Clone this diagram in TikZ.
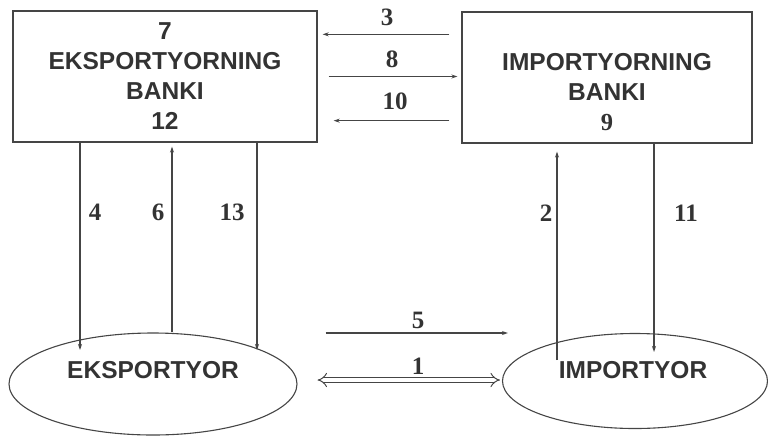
\documentclass[tikz,border=0pt]{standalone}
\usepackage{fontspec}
\setmainfont{Liberation Serif}
\setsansfont{Liberation Sans}
\usetikzlibrary{shapes.geometric,arrows.meta,calc}
\definecolor{linec}{HTML}{454545}
\definecolor{textc}{HTML}{333333}
\begin{document}
\begin{tikzpicture}[x=1pt,y=-1pt,
  bankbox/.style={draw=linec, line width=1.3pt, minimum height=131pt, inner sep=0pt,
    align=center, text=textc, font=\fontsize{24.5}{30}\selectfont\sffamily\bfseries},
  oval/.style={ellipse, draw=linec, line width=1.1pt, inner sep=0pt},
  ovaltext/.style={text=textc, font=\fontsize{24.5}{30}\selectfont\sffamily\bfseries},
  num/.style={text=textc, inner sep=0pt, font=\fontsize{25}{30}\selectfont\rmfamily\bfseries},
  arr/.style={draw=linec, line width=1.1pt, -{Stealth[length=6pt,width=4pt]}},
  dbl/.style={draw=linec, line width=1pt, double=white, double distance=4pt,
    {Implies[length=9pt]}-{Implies[length=9pt]}}
]
\useasboundingbox (0,0) rectangle (768,437);
% boxes
\node[bankbox, minimum width=304pt] (ebank) at (165,76.5)
  {7\\EKSPORTYORNING\\BANKI\\12};
\node[bankbox, minimum width=290pt] (ibank) at (607,77.5)
  {\phantom{7}\\IMPORTYORNING\\BANKI\\{\rmfamily 9}};
% ellipses
\node[oval, minimum width=288pt, minimum height=102pt] (exp) at (153,384) {};
\node[ovaltext] (expt) at (153,370) {EKSPORTYOR};
\node[oval, minimum width=265pt, minimum height=95pt] (imp) at (635,381) {};
\node[ovaltext] (impt) at (633,370) {IMPORTYOR};
% horizontal arrows between banks
\draw[arr] ($(ibank.north west)+(-12,23)$) -- ($(ebank.north east)+(5,24)$);
\draw[arr] ($(ebank.east)+(11,0)$) -- ($(ibank.west)+(-4,-1)$);
\draw[arr] ($(ibank.south west)+(-12,-23)$) -- ($(ebank.south east)+(16,-22)$);
\node[num] (n3) at (387,17) {3};
\node[num] (n8) at (392,59) {8};
\node[num] (n10) at (395,101) {10};
% exporter side verticals
\draw[arr] ($(ebank.south)+(-85,0)$) -- ($(exp.center)+(-73,-34)$);
\draw[arr] ($(exp.north)+(19,0)$) -- ($(ebank.south)+(7,4)$);
\draw[arr] ($(ebank.south)+(92,0)$) -- ($(exp.center)+(104,-34)$);
\node[num] (n4) at (95,212) {4};
\node[num] (n6) at (158,212) {6};
\node[num] (n13) at (232,212) {13};
% importer side verticals
\draw[arr] ($(imp.center)+(-78,-21)$) -- ($(ibank.south)+(-50,8)$);
\draw[arr] ($(ibank.south)+(47,0)$) -- ($(imp.center)+(19,-29)$);
\node[num] (n2) at (546,213) {2};
\node[num] (n11) at (686,213) {11};
% bottom arrows
\draw[arr] ($(exp.east)+(28,-51)$) -- ($(imp.west)+(6,-48)$);
\node[num] (n5) at (418,320) {5};
\draw[dbl] ($(exp.east)+(20,-4)$) -- ($(imp.west)+(-2,-1)$);
\node[num] (n1) at (418,366) {1};
\end{tikzpicture}
\end{document}
